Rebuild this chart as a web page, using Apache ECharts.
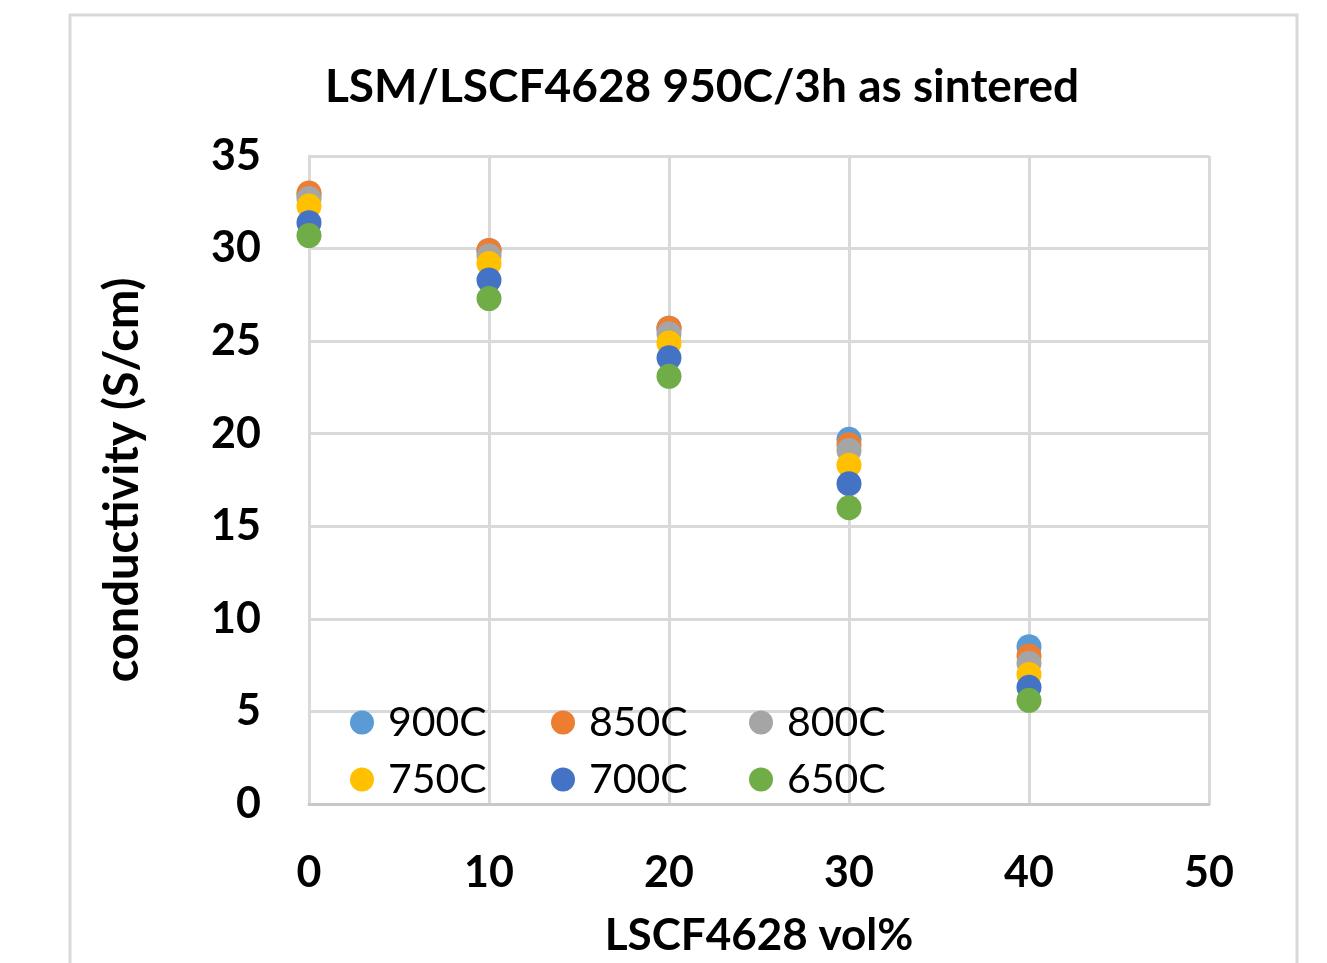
<!DOCTYPE html>
<html>
<head>
<meta charset="utf-8">
<script src="https://cdn.jsdelivr.net/npm/echarts@6/dist/echarts.min.js"></script>
<style>
  html, body { margin: 0; padding: 0; background: #fff; }
  #chart { width: 1327px; height: 963px; }
</style>
</head>
<body>
<div id="chart"></div>
<script>
  // LSCF4628 content (vol%)
  var lscfVol = [0, 10, 20, 30, 40];
  // conductivity (S/cm) per measuring temperature
  var s900 = [32.9, 29.9, 25.7, 19.7, 8.5];
  var s850 = [33.0, 29.9, 25.7, 19.4, 8.0];
  var s800 = [32.7, 29.6, 25.4, 19.1, 7.6];
  var s750 = [32.3, 29.2, 24.9, 18.3, 7.0];
  var s700 = [31.4, 28.3, 24.1, 17.3, 6.3];
  var s650 = [30.7, 27.3, 23.1, 16.0, 5.6];
  var seriesNames = ['900C', '850C', '800C', '750C', '700C', '650C'];
  var seriesColors = ['#5B9BD5', '#ED7D31', '#A5A5A5', '#FFC000', '#4472C4', '#70AD47'];

  var font = 'Lato, "Open Sans", sans-serif';
  var chart = echarts.init(document.getElementById('chart'));

  function pairs(ys) {
    return lscfVol.map(function (x, i) { return [x, ys[i]]; });
  }

  var allData = [s900, s850, s800, s750, s700, s650];
  var series = allData.map(function (ys, i) {
    return {
      name: seriesNames[i],
      type: 'scatter',
      symbol: 'circle',
      symbolSize: 25,
      itemStyle: { color: seriesColors[i], opacity: 1 },
      data: pairs(ys)
    };
  });

  //legend in 3 columns of 2 rows
  function legendCol(left, names) {
    return {
      orient: 'vertical',
      left: left,
      top: 697,
      itemGap: 16,
      itemWidth: 24,
      itemHeight: 24,
      icon: 'circle',
      data: names,
      textStyle: { fontFamily: font, fontSize: 41, lineHeight: 36, color: '#000', padding: [0, 0, 0, 9] },
      selectedMode: false
    };
  }

  chart.setOption({
    animation: false,
    backgroundColor: '#fff',
    graphic: [{
      type: 'rect',
      shape: { x: 70, y: 15, width: 1227, height: 960 },
      style: { fill: 'none', stroke: '#d9d9d9', lineWidth: 3 },
      z: -1
    }],
    title: {
      text: 'LSM/LSCF4628 950C/3h as sintered',
      left: 697,
      textAlign: 'center',
      top: 59,
      textStyle: { fontFamily: font, fontSize: 46, fontWeight: 'bold', color: '#000' }
    },
    legend: [
      legendCol(345, ['900C', '750C']),
      legendCol(546, ['850C', '700C']),
      legendCol(744, ['800C', '650C'])
    ],
    grid: { left: 309, right: 118, top: 156, bottom: 159 },
    xAxis: {
      type: 'value',
      min: 0,
      max: 50,
      interval: 10,
      name: 'LSCF4628 vol%',
      nameLocation: 'middle',
      nameGap: 110,
      nameTextStyle: { fontFamily: font, fontSize: 44, fontWeight: 'bold', color: '#000' },
      axisLine: { show: true, lineStyle: { color: '#c8c8c8', width: 3 } },
      axisTick: { show: false },
      splitLine: { show: true, lineStyle: { color: '#d9d9d9', width: 3 } },
      axisLabel: { fontFamily: font, fontSize: 43, fontWeight: 'bold', color: '#000', margin: 48 }
    },
    yAxis: {
      type: 'value',
      min: 0,
      max: 35,
      interval: 5,
      name: 'conductivity (S/cm)',
      nameLocation: 'middle',
      nameGap: 163,
      nameTextStyle: { fontFamily: font, fontSize: 47, fontWeight: 'bold', color: '#000' },
      axisLine: { show: true, lineStyle: { color: '#d9d9d9', width: 3 } },
      axisTick: { show: false },
      splitLine: { show: true, lineStyle: { color: '#d9d9d9', width: 3 } },
      axisLabel: { fontFamily: font, fontSize: 43, fontWeight: 'bold', color: '#000', margin: 48 }
    },
    series: series
  });
</script>
</body>
</html>
